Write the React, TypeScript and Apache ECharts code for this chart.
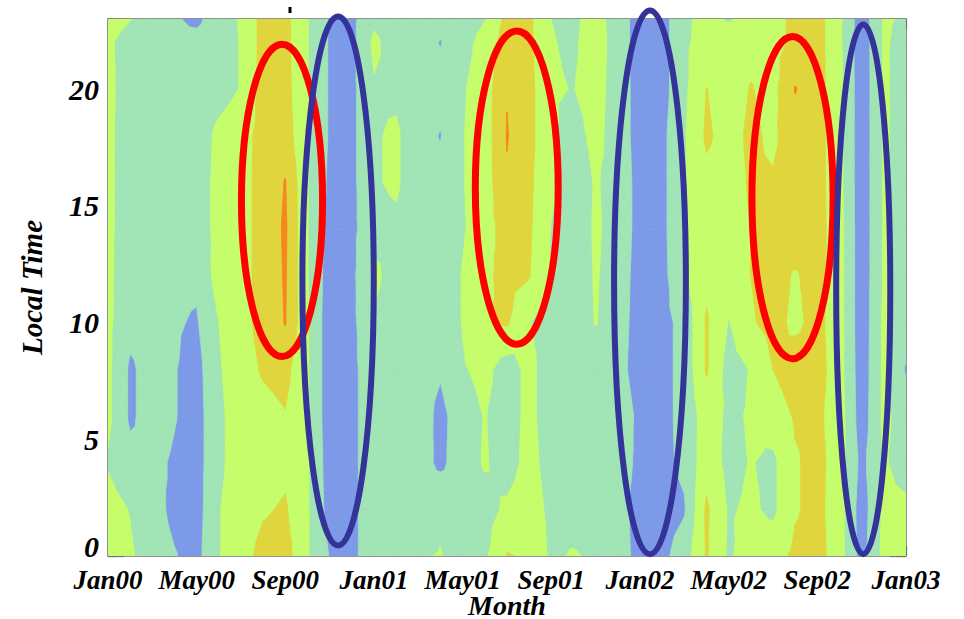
import React, { useEffect, useRef } from 'react';
import * as echarts from 'echarts';

// ---- data -------------------------------------------------------------
// x: months since Jan00 (0..36), tick labels every 4 months
const MONTH_LABELS = ['Jan00', 'May00', 'Sep00', 'Jan01', 'May01', 'Sep01', 'Jan02', 'May02', 'Sep02', 'Jan03'];
// local-time rows at which the field is sampled
const HOURS = [0, 2, 4, 6, 8, 10, 12, 14, 16, 18, 20, 22, 23];
// one row per local hour, 37 monthly samples (Jan00 .. Jan03)
const LT00 = [2.6, 2.15, 1.4, 1.05, 0.7, 1.95, 2.6, 3.3, 3.4, 2.1, 0.95, 0.75, 1.6, 1.5, 1.9, 2.05, 1.4, 1.8, 3.05, 2.9, 1.8, 2.1, 1.8, 1.4, 0.7, 0.75, 1.5, 3.1, 1.85, 2.5, 2.6, 3.2, 3.4, 2.4, 0.6, 2.3, 2.4];
const LT02 = [2.4, 1.95, 1.3, 0.8, 0.6, 1.95, 2.5, 2.9, 3.1, 2.1, 0.6, 0.75, 1.6, 1.5, 1.5, 1.8, 1.5, 1.6, 2.2, 2.6, 1.7, 1.5, 1.4, 1.4, 0.6, 0.6, 0.9, 3.15, 1.9, 2.15, 1.8, 2.9, 3.3, 2.4, 0.5, 2.2, 2.2];
const LT04 = [1.9, 1.3, 1.2, 0.9, 0.6, 1.8, 2.5, 2.6, 2.8, 2.1, 0.5, 0.75, 1.6, 1.4, 1.4, 0.8, 1.5, 2.1, 1.5, 2.4, 1.5, 1.3, 1.3, 1.4, 0.8, 0.75, 1.2, 2.6, 1.7, 2.05, 1.8, 2.9, 3.3, 2.5, 0.7, 2.1, 1.6];
const LT06 = [2.2, 0.85, 1.4, 1.05, 0.6, 1.8, 2.5, 2.7, 2.95, 2.1, 0.4, 0.75, 1.6, 1.4, 1.5, 0.75, 1.5, 2.05, 1.5, 2.3, 1.4, 1.3, 1.3, 1.5, 0.8, 0.7, 1.3, 2.5, 1.8, 2.1, 2.5, 3.1, 3.2, 2.5, 0.45, 2.2, 1.6];
const LT08 = [2.2, 0.85, 1.4, 1.05, 0.65, 1.9, 2.6, 3.1, 3.3, 2.1, 0.4, 0.75, 1.6, 1.4, 1.4, 1.1, 1.9, 2.3, 1.5, 2.3, 1.4, 1.3, 1.4, 1.3, 0.6, 0.7, 1.3, 3.1, 1.6, 2.05, 3.0, 3.5, 3.4, 2.4, 0.4, 2.2, 0.9];
const LT10 = [2.2, 1.3, 1.4, 1.1, 0.9, 2.0, 2.7, 3.3, 4.05, 2.1, 0.4, 0.75, 1.9, 1.5, 1.3, 1.3, 2.05, 2.9, 3.1, 2.05, 1.5, 1.4, 2.05, 1.4, 0.6, 0.7, 1.3, 3.1, 1.95, 2.9, 3.3, 2.8, 3.3, 2.4, 0.35, 2.2, 1.6];
const LT12 = [2.2, 1.4, 1.4, 1.2, 1.2, 2.4, 2.7, 3.3, 4.1, 2.05, 0.5, 0.75, 2.2, 1.6, 1.3, 1.4, 2.05, 2.8, 3.3, 3.05, 1.9, 1.3, 2.1, 1.5, 0.6, 0.7, 1.85, 2.8, 2.5, 3.0, 3.4, 2.9, 3.4, 2.4, 0.35, 2.1, 1.7];
const LT14 = [2.2, 1.5, 1.3, 1.3, 1.5, 2.3, 2.7, 3.3, 4.15, 2.05, 0.65, 0.75, 1.7, 1.8, 1.3, 1.3, 1.9, 2.6, 3.4, 3.15, 1.95, 1.3, 2.15, 1.6, 0.65, 0.75, 1.9, 2.6, 2.6, 3.0, 3.5, 3.6, 3.4, 2.4, 0.35, 2.1, 1.7];
const LT16 = [2.2, 1.5, 1.3, 1.3, 1.5, 2.3, 2.7, 3.3, 4.05, 2.05, 0.8, 0.75, 1.9, 2.15, 1.3, 1.3, 1.95, 2.5, 3.9, 3.2, 2.2, 1.3, 2.1, 1.6, 0.65, 0.75, 1.9, 2.75, 2.6, 3.1, 3.1, 3.6, 3.4, 2.3, 0.35, 2.1, 1.7];
const LT18 = [2.2, 1.5, 1.3, 1.2, 1.4, 2.25, 2.6, 3.35, 3.5, 2.05, 0.9, 0.75, 1.9, 2.15, 1.3, 0.96, 1.95, 2.5, 4.05, 3.3, 2.1, 1.6, 2.3, 1.5, 0.6, 0.75, 1.9, 3.15, 2.6, 3.2, 2.8, 3.6, 3.4, 2.3, 0.35, 2.1, 1.7];
const LT20 = [2.25, 1.5, 1.3, 1.2, 1.3, 1.6, 2.05, 3.35, 3.35, 2.05, 0.9, 0.75, 1.9, 1.8, 1.4, 1.3, 1.9, 2.5, 3.95, 3.3, 2.1, 1.97, 2.4, 1.5, 0.6, 0.6, 1.8, 3.02, 2.5, 3.05, 2.7, 4.05, 3.4, 2.3, 0.35, 2.1, 1.7];
const LT22 = [2.2, 1.5, 1.3, 1.2, 1.3, 1.5, 2.05, 3.35, 3.3, 2.05, 0.9, 0.75, 2.2, 1.5, 1.4, 0.96, 1.6, 2.4, 3.5, 3.2, 2.05, 1.85, 2.5, 1.5, 0.55, 0.6, 1.8, 2.5, 2.6, 2.7, 2.7, 3.2, 3.4, 2.2, 0.35, 2.1, 1.7];
const LT23 = [2.5, 2.05, 1.4, 1.1, 0.8, 1.5, 2.1, 3.35, 3.3, 2.05, 0.9, 0.75, 1.8, 1.5, 1.4, 1.3, 1.4, 1.95, 3.3, 3.2, 2.0, 1.8, 2.4, 1.5, 0.55, 0.6, 1.8, 2.3, 1.9, 2.4, 2.7, 3.2, 3.4, 2.2, 0.4, 2.1, 1.9];
const ROWS = [LT00, LT02, LT04, LT06, LT08, LT10, LT12, LT14, LT16, LT18, LT20, LT22, LT23];
// contour levels (lower bounds of each filled band)
const LEVELS = [-Infinity, 1, 2, 3, 4];

// annotation ellipses: [centre month, centre hour, half-width (months), half-height (hours)]
const RED_ELLIPSES = [
  [7.85, 15.23, 1.83, 6.69],
  [18.44, 15.78, 1.87, 6.71],
  [30.88, 15.35, 1.83, 6.9],
];
const BLUE_ELLIPSES = [
  [10.38, 11.78, 1.61, 11.33],
  [24.45, 11.72, 1.62, 11.64],
  [34.07, 11.42, 1.22, 11.34],
];

// ---- styles -----------------------------------------------------------
const BAND_COLORS = ['#7d9ae9', '#a1e4b5', '#c6fd6b', '#e0d53d', '#f6881f'];
const FONT = '"Liberation Serif", "Times New Roman", serif';
const AXIS_COLOR = '#6e6e6e';

function clipTri(pts: number[][], vals: number[], T: number): number[][] {
  const out: number[][] = [];
  for (let k = 0; k < 3; k++) {
    const a = pts[k];
    const b = pts[(k + 1) % 3];
    const va = vals[k];
    const vb = vals[(k + 1) % 3];
    const ina = va >= T;
    const inb = vb >= T;
    if (ina) out.push(a);
    if (ina !== inb) {
      const t = (T - va) / (vb - va);
      out.push([a[0] + t * (b[0] - a[0]), a[1] + t * (b[1] - a[1])]);
    }
  }
  return out;
}

function makeBandRenderer(levelIndex: number) {
  const T = LEVELS[levelIndex];
  const color = BAND_COLORS[levelIndex];
  return (params: any, api: any) => {
    const i = api.value(0);
    const j = api.value(1);
    const x0 = i;
    const x1 = i + 1;
    const y0 = HOURS[j];
    const y1 = HOURS[j + 1];
    const style = { fill: color, stroke: color, lineWidth: 0.8 };
    if (!isFinite(T)) {
      const pts = [[x0, y0], [x1, y0], [x1, y1], [x0, y1]].map((p) => api.coord(p));
      return { type: 'polygon', shape: { points: pts }, style };
    }
    const v00 = ROWS[j][i];
    const v10 = ROWS[j][i + 1];
    const v01 = ROWS[j + 1][i];
    const v11 = ROWS[j + 1][i + 1];
    const vc = (v00 + v10 + v01 + v11) / 4;
    const c = [(x0 + x1) / 2, (y0 + y1) / 2];
    const P00 = [x0, y0];
    const P10 = [x1, y0];
    const P11 = [x1, y1];
    const P01 = [x0, y1];
    const tris: [number[][], number[]][] = [
      [[c, P00, P10], [vc, v00, v10]],
      [[c, P10, P11], [vc, v10, v11]],
      [[c, P11, P01], [vc, v11, v01]],
      [[c, P01, P00], [vc, v01, v00]],
    ];
    const children: any[] = [];
    for (const [pts, vals] of tris) {
      const poly = clipTri(pts, vals, T);
      if (poly.length >= 3) {
        children.push({
          type: 'polygon',
          shape: { points: poly.map((p) => api.coord(p)) },
          style,
        });
      }
    }
    return { type: 'group', children };
  };
}

function makeEllipseRenderer(color: string, width: number) {
  return (params: any, api: any) => {
    const c = api.coord([api.value(0), api.value(1)]);
    const s = api.size([api.value(2), api.value(3)]);
    return {
      type: 'ellipse',
      shape: { cx: c[0], cy: c[1], rx: s[0], ry: s[1] },
      style: { fill: 'none', stroke: color, lineWidth: width },
    };
  };
}

export default function App() {
  const ref = useRef<HTMLDivElement>(null);

  useEffect(() => {
    if (!ref.current) return;
    const chart = echarts.init(ref.current, undefined, { renderer: 'svg' });

    const cells: number[][] = [];
    for (let j = 0; j < HOURS.length - 1; j++) {
      for (let i = 0; i < ROWS[0].length - 1; i++) cells.push([i, j]);
    }

    const tickStyle = { color: AXIS_COLOR, width: 1.2 };
    const labelFont = { fontFamily: FONT, fontWeight: 'bold', fontStyle: 'italic', color: '#000' };

    const bandSeries = LEVELS.map((_, k) => ({
      type: 'custom',
      name: 'band' + k,
      silent: true,
      clip: true,
      renderItem: makeBandRenderer(k),
      encode: { x: 0, y: 1 },
      data: cells,
    }));

    const option: any = {
      animation: false,
      backgroundColor: '#ffffff',
      grid: { left: 108, right: 58, top: 19, bottom: 63, containLabel: false, outerBoundsMode: 'none' },
      xAxis: [
        {
          type: 'value',
          position: 'bottom',
          min: 0,
          max: 36,
          interval: 4,
          axisLine: { show: true, onZero: false, lineStyle: { color: AXIS_COLOR, width: 1.5 } },
          axisTick: { show: true, inside: true, length: 10, lineStyle: tickStyle },
          minorTick: { show: true, splitNumber: 2, length: 5, lineStyle: tickStyle },
          splitLine: { show: false },
          minorSplitLine: { show: false },
          axisLabel: {
            ...labelFont,
            fontSize: 27,
            margin: 10,
            formatter: (v: number) => MONTH_LABELS[Math.round(v / 4)] ?? '',
          },
          name: 'Month',
          nameLocation: 'middle',
          nameGap: 37,
          nameMoveOverlap: false,
          nameTextStyle: { ...labelFont, fontSize: 28, lineHeight: 24 },
        },
        {
          type: 'value',
          position: 'top',
          min: 0,
          max: 36,
          interval: 4,
          axisLine: { show: true, onZero: false, lineStyle: { color: AXIS_COLOR, width: 1.5 } },
          axisTick: { show: true, inside: true, length: 10, lineStyle: tickStyle },
          minorTick: { show: true, splitNumber: 2, length: 5, lineStyle: tickStyle },
          splitLine: { show: false },
          axisLabel: { show: false },
        },
      ],
      yAxis: [
        {
          type: 'value',
          position: 'left',
          min: 0,
          max: 23,
          interval: 5,
          axisLine: { show: true, onZero: false, lineStyle: { color: AXIS_COLOR, width: 1.5 } },
          axisTick: { show: true, inside: true, length: 16, lineStyle: tickStyle },
          splitLine: { show: false },
          axisLabel: {
            ...labelFont,
            fontSize: 30,
            margin: 9,
            formatter: (v: number) => (v === 0 ? '{zero|0}' : v % 5 === 0 ? String(v) : ''),
            rich: {
              zero: { ...labelFont, fontSize: 30, padding: [0, 0, 20, 0] },
            },
          },
          name: 'Local Time',
          nameLocation: 'middle',
          nameGap: 62,
          nameRotate: 90,
          nameTextStyle: { ...labelFont, fontSize: 29 },
        },
        {
          type: 'value',
          position: 'left',
          min: 0,
          max: 23,
          interval: 1,
          axisLine: { show: false, onZero: false },
          axisTick: { show: true, inside: true, length: 8, lineStyle: tickStyle },
          splitLine: { show: false },
          axisLabel: { show: false },
        },
        {
          type: 'value',
          position: 'right',
          min: 0,
          max: 23,
          interval: 5,
          axisLine: { show: true, onZero: false, lineStyle: { color: AXIS_COLOR, width: 1.5 } },
          axisTick: { show: true, inside: true, length: 16, lineStyle: tickStyle },
          splitLine: { show: false },
          axisLabel: { show: false },
        },
        {
          type: 'value',
          position: 'right',
          min: 0,
          max: 23,
          interval: 1,
          axisLine: { show: false, onZero: false },
          axisTick: { show: true, inside: true, length: 8, lineStyle: tickStyle },
          splitLine: { show: false },
          axisLabel: { show: false },
        },
      ],
      series: [
        ...bandSeries,
        {
          type: 'custom',
          name: 'red',
          silent: true,
          clip: false,
          z: 5,
          renderItem: makeEllipseRenderer('#ff0000', 7),
          encode: { x: 0, y: 1 },
          data: RED_ELLIPSES,
        },
        {
          type: 'custom',
          name: 'blue',
          silent: true,
          clip: false,
          z: 6,
          renderItem: makeEllipseRenderer('#333399', 6),
          encode: { x: 0, y: 1 },
          data: BLUE_ELLIPSES,
        },
      ],
      graphic: [
        { type: 'rect', shape: { x: 288.5, y: 7, width: 3, height: 6 }, style: { fill: '#000' }, z: 10 },
      ],
    };

    chart.setOption(option);
    return () => chart.dispose();
  }, []);

  return <div ref={ref} style={{ position: 'fixed', left: 0, top: 0, width: 964, height: 619 }} />;
}
